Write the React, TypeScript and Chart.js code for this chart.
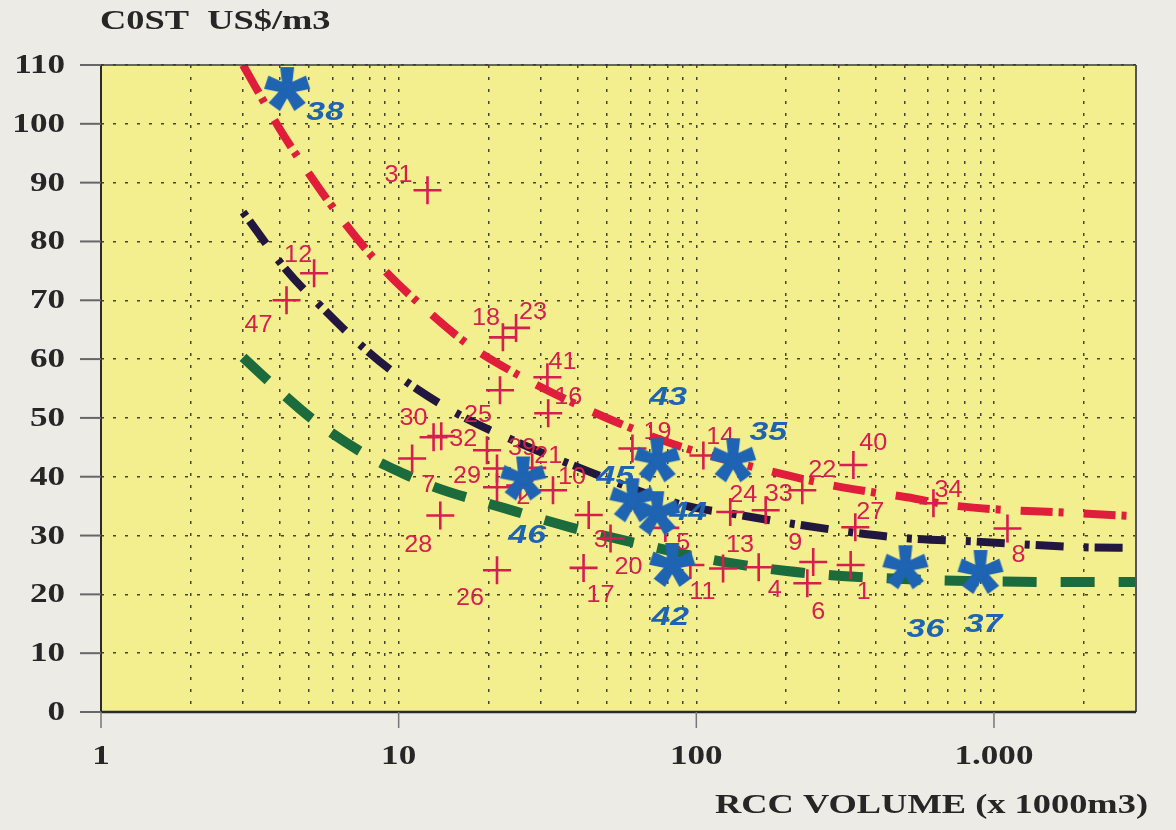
import React, { useEffect, useRef } from 'react';
import { Chart, registerables } from 'chart.js';

Chart.register(...registerables);

// ---------- axis ticks ----------
const xTickValues = [1, 10, 100, 1000];
const xTickLabels = ['1', '10', '100', '1.000'];
const yTickValues = [0, 10, 20, 30, 40, 50, 60, 70, 80, 90, 100, 110];
const yTickLabels = ['0', '10', '20', '30', '40', '50', '60', '70', '80', '90', '100', '110'];
const xDecades = [1, 10, 100, 1000];
const xMultipliers = [1, 2, 3, 4, 5, 6, 7, 8, 9];

const yTitle = 'C0ST  US$/m3';
const xTitle = 'RCC VOLUME (x 1000m3)';

// ---------- red crosses (dams) ----------
const crossLabels = ['31', '12', '47', '18', '23', '41', '16', '25', '30', '32', '', '7', '29', '39', '21', '2', '10', '28', '26', '3', '20', '17', '19', '14', '5', '11', '24', '33', '22', '40', '27', '13', '4', '9', '6', '1', '34', '8'];
const crossX = [12.5, 5.2, 4.2, 22.4, 24.8, 31.6, 31.8, 21.9, 13.1, 13.9, 19.8, 11.1, 21.4, 21.4, 28.1, 25.6, 33.0, 13.8, 21.4, 43.5, 51.5, 41.8, 61, 105.6, 78.7, 95.5, 130, 171, 227, 337, 342, 123, 162, 247, 236, 330, 626, 1110];
const crossY = [88.7, 74.6, 70.0, 63.7, 65.3, 56.9, 50.8, 54.7, 46.7, 46.9, 44.5, 43.1, 38.2, 41.4, 41.5, 38.5, 37.7, 33.4, 24.1, 33.5, 29.5, 24.5, 44.8, 43.6, 31.3, 25.0, 34.0, 34.3, 37.7, 42.0, 31.4, 24.4, 24.6, 25.5, 21.9, 25.0, 35.5, 31.2];
// label offsets (px) from the mark
const crossLabelDx = [-29, -16, -28, -17, 17, 15, 20, -22, -20, 22, 0, 16, -30, 25, 16, 3, 19, -22, -27, 12, 18, 17, 25, 17, 18, 12, 13, 13, 20, 20, 15, 17, 16, -18, 11, 13, 15, 11];
const crossLabelDy = [-15, -18, 25, -19, -16, -15, -16, 25, -19, 3, 0, 27, -11, -20, -12, 12, -13, 30, 28, 25, 29, 27, -16, -18, 15, 27, -17, -16, -20, -22, -15, -23, 23, -19, 29, 27, -13, 27];

// ---------- blue stars ----------
const starLabels = ['38', '46', '43', '45', '44', '35', '42', '36', '37'];
const starX = [4.22, 26.2, 73.9, 61, 73.9, 133, 83, 504, 901];
const starY = [105.9, 39.7, 42.8, 36.0, 33.8, 42.8, 25.0, 24.6, 23.8];
const starLabelDx = [38, 4, 11, -17, 31, 35, -2, 20, 3];
const starLabelDy = [24, 57, -62, -23, 0, -27, 53, 63, 53];

// ---------- trend curves ----------
const redCurveX = [3, 4, 5, 6.5, 9, 12, 17, 25, 37, 55, 90, 200, 310, 510, 760, 1900, 3000];
const redCurveY = [110, 99, 91.5, 83.5, 75, 69, 62.6, 57.4, 53, 49.1, 45, 40.3, 38.2, 36.5, 35, 33.8, 33.3];
const navyCurveX = [3, 4.2, 5.7, 7.8, 11, 17, 25, 37, 90, 136, 210, 340, 520, 850, 2000, 3000];
const navyCurveY = [85, 75.1, 68.1, 61.5, 55.6, 49.8, 45.9, 42.3, 35.2, 33.6, 32, 30.5, 29.5, 29, 28, 27.9];
const greenCurveX = [3, 3.8, 5.1, 7.9, 9.9, 13.3, 22.5, 37.8, 65.6, 112, 198, 340, 1700, 3000];
const greenCurveY = [60.3, 55.5, 49.9, 43.5, 41, 38.2, 34.7, 31.4, 28.5, 25.9, 24, 23, 22.1, 22.1];

// ---------- styles ----------
const PAGE_BG = '#ecebe6';
const PLOT_BG = '#f4ef8e';
const CROSS_RED = '#d61f4e';
const CURVE_RED = '#e01e3c';
const NAVY = '#22183f';
const GREEN = '#1c6b3c';
const BLUE = '#1e64b2';
const AXIS_TEXT = '#262626';
const SERIF = '"Liberation Serif", "Times New Roman", serif';
const SANS = '"Liberation Sans", Arial, sans-serif';

function drawText(ctx: CanvasRenderingContext2D, text: string, x: number, y: number, font: string, color: string, sx: number, align: CanvasTextAlign) {
  ctx.save();
  ctx.font = font;
  ctx.fillStyle = color;
  ctx.textBaseline = 'middle';
  ctx.textAlign = align;
  ctx.translate(x, y);
  ctx.scale(sx, 1);
  ctx.fillText(text, 0, 0);
  ctx.restore();
}

function makeStar(color: string) {
  const c = document.createElement('canvas');
  c.width = 48;
  c.height = 48;
  const g = c.getContext('2d')!;
  g.fillStyle = color;
  const cx = 24, cy = 24, R = 22, w0 = 4.5, w1 = 7;
  for (let k = 0; k < 5; k++) {
    const a = -Math.PI / 2 + (k * 2 * Math.PI) / 5;
    const dx = Math.cos(a), dy = Math.sin(a);
    const px = -dy, py = dx;
    g.beginPath();
    g.moveTo(cx + px * w0, cy + py * w0);
    g.lineTo(cx + dx * R + px * w1, cy + dy * R + py * w1);
    g.lineTo(cx + dx * R - px * w1, cy + dy * R - py * w1);
    g.lineTo(cx - px * w0, cy - py * w0);
    g.closePath();
    g.fill();
  }
  g.beginPath();
  g.arc(cx, cy, 7, 0, Math.PI * 2);
  g.fill();
  return c;
}

const STAR_INDEX = 0;
const CROSS_INDEX = 1;

const decorPlugin = {
  id: 'decor',
  beforeDraw(chart: any) {
    const { ctx, chartArea: a } = chart;
    ctx.save();
    ctx.fillStyle = PAGE_BG;
    ctx.fillRect(0, 0, chart.width, chart.height);
    ctx.fillStyle = PLOT_BG;
    ctx.fillRect(a.left, a.top, a.right - a.left, a.bottom - a.top);
    ctx.restore();
  },
  afterDatasetDraw(chart: any, args: any) {
    const { ctx } = chart;
    const xs = chart.scales.x, ys = chart.scales.y;
    if (args.index === CROSS_INDEX) {
      crossLabels.forEach((t, i) => {
        if (!t) return;
        const px = xs.getPixelForValue(crossX[i]) + crossLabelDx[i];
        const py = ys.getPixelForValue(crossY[i]) + crossLabelDy[i];
        drawText(ctx, t, px, py, `24px ${SANS}`, CROSS_RED, 1.05, 'center');
      });
    }
    if (args.index === STAR_INDEX) {
      starLabels.forEach((t, i) => {
        const px = xs.getPixelForValue(starX[i]) + starLabelDx[i];
        const py = ys.getPixelForValue(starY[i]) + starLabelDy[i];
        drawText(ctx, t, px, py, `italic bold 26px ${SANS}`, BLUE, 1.3, 'center');
      });
    }
  },
  afterDraw(chart: any) {
    const { ctx, chartArea: a } = chart;
    const xs = chart.scales.x, ys = chart.scales.y;
    ctx.save();
    // frame
    ctx.strokeStyle = '#3a3a3a';
    ctx.lineWidth = 1.6;
    ctx.beginPath();
    ctx.moveTo(a.left, a.top);
    ctx.lineTo(a.right, a.top);
    ctx.stroke();
    ctx.strokeStyle = '#555';
    ctx.lineWidth = 2;
    ctx.beginPath();
    ctx.moveTo(a.right, a.top);
    ctx.lineTo(a.right, a.bottom);
    ctx.stroke();
    ctx.strokeStyle = '#2a2a2a';
    ctx.lineWidth = 2;
    ctx.beginPath();
    ctx.moveTo(a.left, a.top);
    ctx.lineTo(a.left, a.bottom);
    ctx.stroke();
    ctx.lineWidth = 2.5;
    ctx.beginPath();
    ctx.moveTo(a.left, a.bottom);
    ctx.lineTo(a.right, a.bottom);
    ctx.stroke();
    // y tick marks + labels
    ctx.strokeStyle = '#666';
    ctx.lineWidth = 2;
    yTickValues.forEach((v, i) => {
      const py = ys.getPixelForValue(v);
      ctx.beginPath();
      ctx.moveTo(a.left - 21, py);
      ctx.lineTo(a.left, py);
      ctx.stroke();
      drawText(ctx, yTickLabels[i], 65, py + 1, `bold 27px ${SERIF}`, AXIS_TEXT, 1.3, 'right');
    });
    // x tick marks + labels
    ctx.strokeStyle = '#777';
    ctx.lineWidth = 1.5;
    xTickValues.forEach((v, i) => {
      const px = xs.getPixelForValue(v);
      ctx.beginPath();
      ctx.moveTo(px, a.bottom);
      ctx.lineTo(px, a.bottom + 16);
      ctx.stroke();
      drawText(ctx, xTickLabels[i], px, 757, `bold 27px ${SERIF}`, AXIS_TEXT, 1.3, 'center');
    });
    // titles
    drawText(ctx, yTitle, 100, 22, `bold 28px ${SERIF}`, AXIS_TEXT, 1.3, 'left');
    drawText(ctx, xTitle, 1148, 806, `bold 28px ${SERIF}`, AXIS_TEXT, 1.3, 'right');
    ctx.restore();
  },
};

function toPoints(xs: number[], ys: number[]) {
  return xs.map((x, i) => ({ x, y: ys[i] }));
}

export default function App() {
  const ref = useRef<HTMLCanvasElement>(null);
  useEffect(() => {
    const canvas = ref.current;
    if (!canvas) return;
    const star = makeStar(BLUE);
    const gridValues: number[] = [];
    xDecades.forEach((d) => xMultipliers.forEach((m) => { if (d * m <= 3000) gridValues.push(d * m); }));

    const curve = (xs: number[], ys: number[], color: string, width: number, dash: number[]) => ({
      type: 'line' as const,
      data: toPoints(xs, ys),
      borderColor: color,
      borderWidth: width,
      borderDash: dash,
      borderCapStyle: 'butt' as const,
      pointRadius: 0,
      fill: false,
      showLine: true,
      cubicInterpolationMode: 'monotone' as const,
    });

    const chart = new Chart(canvas, {
      type: 'scatter',
      data: {
        datasets: [
          {
            data: toPoints(starX, starY),
            pointStyle: star,
            pointRadius: 22,
            pointHoverRadius: 22,
          } as any,
          {
            data: toPoints(crossX, crossY),
            pointStyle: 'cross',
            pointRadius: 14,
            pointHoverRadius: 14,
            borderColor: CROSS_RED,
            pointBorderColor: CROSS_RED,
            pointBorderWidth: 2.6,
            borderWidth: 2.6,
          } as any,
          curve(redCurveX, redCurveY, CURVE_RED, 8, [32, 6, 5, 20]),
          curve(navyCurveX, navyCurveY, NAVY, 8, [5, 6, 28, 20]),
          curve(greenCurveX, greenCurveY, GREEN, 10, [34, 24]),
        ],
      },
      options: {
        responsive: false,
        devicePixelRatio: 1,
        animation: false,
        layout: { padding: { top: 65, right: 40, bottom: 0, left: 0 } },
        plugins: { legend: { display: false }, tooltip: { enabled: false } },
        events: [],
        scales: {
          x: {
            type: 'logarithmic',
            min: 1,
            max: 3000,
            position: 'bottom',
            ticks: { display: false },
            grid: { color: 'rgba(25,25,25,0.8)', lineWidth: 1.5, drawTicks: false },
            border: { display: false, dash: [3, 9] },
            afterBuildTicks: (s: any) => {
              s.ticks = gridValues.map((v) => ({ value: v }));
            },
            afterFit: (s: any) => {
              s.height = 118;
            },
          },
          y: {
            type: 'linear',
            min: 0,
            max: 110,
            ticks: { display: false, stepSize: 10 },
            grid: { color: 'rgba(25,25,25,0.8)', lineWidth: 1.5, drawTicks: false },
            border: { display: false, dash: [3, 9] },
            afterFit: (s: any) => {
              s.width = 101;
            },
          },
        },
      } as any,
      plugins: [decorPlugin],
    });
    return () => chart.destroy();
  }, []);

  return (
    <div style={{ position: 'fixed', left: 0, top: 0, width: 1176, height: 830, background: PAGE_BG }}>
      <canvas ref={ref} width={1176} height={830} style={{ display: 'block', width: 1176, height: 830 }} />
    </div>
  );
}
